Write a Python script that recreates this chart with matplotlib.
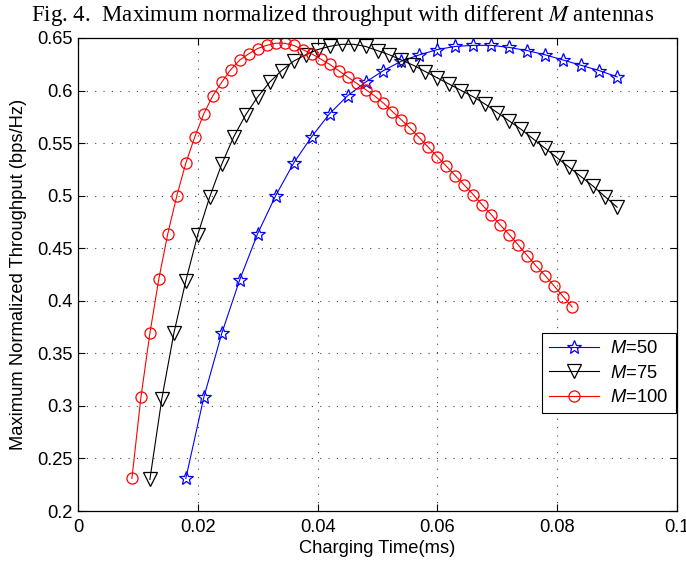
import matplotlib
matplotlib.use("Agg")
import matplotlib.pyplot as plt
from matplotlib.ticker import FixedLocator, FuncFormatter

# ---------------- data ----------------
x_m50 = [0.018, 0.021, 0.024, 0.027, 0.030, 0.033, 0.036, 0.039, 0.042, 0.045,
         0.048, 0.051, 0.054, 0.057, 0.060, 0.063, 0.066, 0.069, 0.072, 0.075,
         0.078, 0.081, 0.084, 0.087, 0.090]
y_m50 = [0.231, 0.308, 0.369, 0.420, 0.464, 0.500, 0.531, 0.556, 0.578, 0.595,
         0.608, 0.619, 0.628, 0.634, 0.639, 0.642, 0.643, 0.643, 0.641, 0.638,
         0.634, 0.629, 0.624, 0.619, 0.613]

x_m75 = [0.012, 0.014, 0.016, 0.018, 0.020, 0.022, 0.024, 0.026, 0.028, 0.030,
         0.032, 0.034, 0.036, 0.038, 0.040, 0.042, 0.044, 0.046, 0.048, 0.050,
         0.052, 0.054, 0.056, 0.058, 0.060, 0.062, 0.064, 0.066, 0.068, 0.070,
         0.072, 0.074, 0.076, 0.078, 0.080, 0.082, 0.084, 0.086, 0.088, 0.090]
y_m75 = [0.230, 0.307, 0.369, 0.419, 0.463, 0.499, 0.530, 0.556, 0.577, 0.594,
         0.608, 0.619, 0.628, 0.634, 0.639, 0.642, 0.644, 0.644, 0.642, 0.638,
         0.634, 0.629, 0.624, 0.618, 0.612, 0.606, 0.600, 0.594, 0.587, 0.579,
         0.571, 0.563, 0.554, 0.545, 0.536, 0.527, 0.518, 0.509, 0.499, 0.489]

x_m100 = [0.0090, 0.0105, 0.0120, 0.0135, 0.0150, 0.0165, 0.0180, 0.0195, 0.0210, 0.0225,
          0.0240, 0.0255, 0.0270, 0.0285, 0.0300, 0.0315, 0.0330, 0.0345, 0.0360, 0.0375,
          0.0390, 0.0405, 0.0420, 0.0435, 0.0450, 0.0465, 0.0480, 0.0495, 0.0510, 0.0525,
          0.0540, 0.0555, 0.0570, 0.0585, 0.0600, 0.0615, 0.0630, 0.0645, 0.0660, 0.0675,
          0.0690, 0.0705, 0.0720, 0.0735, 0.0750, 0.0765, 0.0780, 0.0795, 0.0810, 0.0825]
y_m100 = [0.231, 0.308, 0.369, 0.421, 0.464, 0.500, 0.531, 0.556, 0.578, 0.595,
          0.608, 0.620, 0.629, 0.635, 0.640, 0.643, 0.645, 0.645, 0.643, 0.639,
          0.635, 0.630, 0.625, 0.619, 0.613, 0.607, 0.601, 0.595, 0.588, 0.580,
          0.572, 0.564, 0.555, 0.546, 0.537, 0.528, 0.519, 0.510, 0.501, 0.491,
          0.482, 0.472, 0.463, 0.453, 0.443, 0.433, 0.424, 0.414, 0.404, 0.394]

labels = ["50", "75", "100"]
x_ticks = [0, 0.02, 0.04, 0.06, 0.08, 0.1]
y_ticks = [0.2, 0.25, 0.3, 0.35, 0.4, 0.45, 0.5, 0.55, 0.6, 0.65]

title_text = "Fig. 4.  Maximum normalized throughput with different $M$ antennas"
xlabel_text = "Charging Time(ms)"
ylabel_text = "Maximum Normalized Throughput (bps/Hz)"

# ---------------- figure ----------------
plt.rcParams['font.family'] = ['Liberation Sans', 'DejaVu Sans']
plt.rcParams['mathtext.fontset'] = 'custom'
plt.rcParams['mathtext.rm'] = 'Liberation Sans'
plt.rcParams['mathtext.it'] = 'Liberation Sans:italic'

FS = 13.2
W, H = 686, 561
fig = plt.figure(figsize=(W / 100, H / 100), dpi=100)
ax = fig.add_axes([78 / W, 1 - 511 / H, (677 - 78) / W, (511 - 38) / H])

lw = 0.8
ax.plot(x_m50, y_m50, color=(0, 0, 1), lw=lw, marker='*', ms=10.5,
        mfc='none', mec=(0, 0, 1), mew=0.9, label=r"$M$=" + labels[0])
ax.plot(x_m75, y_m75, color='black', lw=lw, marker='v', ms=9.5,
        mfc='none', mec='black', mew=0.9, label=r"$M$=" + labels[1])
ax.plot(x_m100, y_m100, color=(1, 0, 0), lw=lw, marker='o', ms=8,
        mfc='none', mec=(1, 0, 0), mew=0.9, label=r"$M$=" + labels[2])

ax.set_xlim(0, 0.1)
ax.set_ylim(0.2, 0.65)
ax.xaxis.set_major_locator(FixedLocator(x_ticks))
ax.yaxis.set_major_locator(FixedLocator(y_ticks))
fmt = FuncFormatter(lambda v, p: ("%g" % round(v, 4)))
ax.xaxis.set_major_formatter(fmt)
ax.yaxis.set_major_formatter(fmt)

ax.tick_params(direction='in', top=True, right=True, length=5, width=0.8,
               labelsize=FS)
ax.tick_params(axis='x', pad=5.5)
ax.tick_params(axis='y', pad=4)
for s in ax.spines.values():
    s.set_linewidth(0.9)

ax.grid(True, color='#444444', linestyle=(0, (1, 6.5)), linewidth=0.8)

ax.set_xlabel(xlabel_text, fontsize=FS, labelpad=3)
ax.set_ylabel(ylabel_text, fontsize=FS, labelpad=7)

leg = ax.legend(loc='upper right', bbox_to_anchor=(0.998, 0.376),
                borderaxespad=0, fontsize=FS, handlelength=2.75,
                fancybox=False, framealpha=1, edgecolor='black',
                labelspacing=0.4, borderpad=0.4, handletextpad=0.6)
leg.get_frame().set_linewidth(0.8)

fig.text(0.499, 1 - 15 / H, title_text, ha='center', va='center',
         fontsize=16.5, family='Liberation Serif', math_fontfamily='stix')

fig.savefig("out.png", dpi=100)
